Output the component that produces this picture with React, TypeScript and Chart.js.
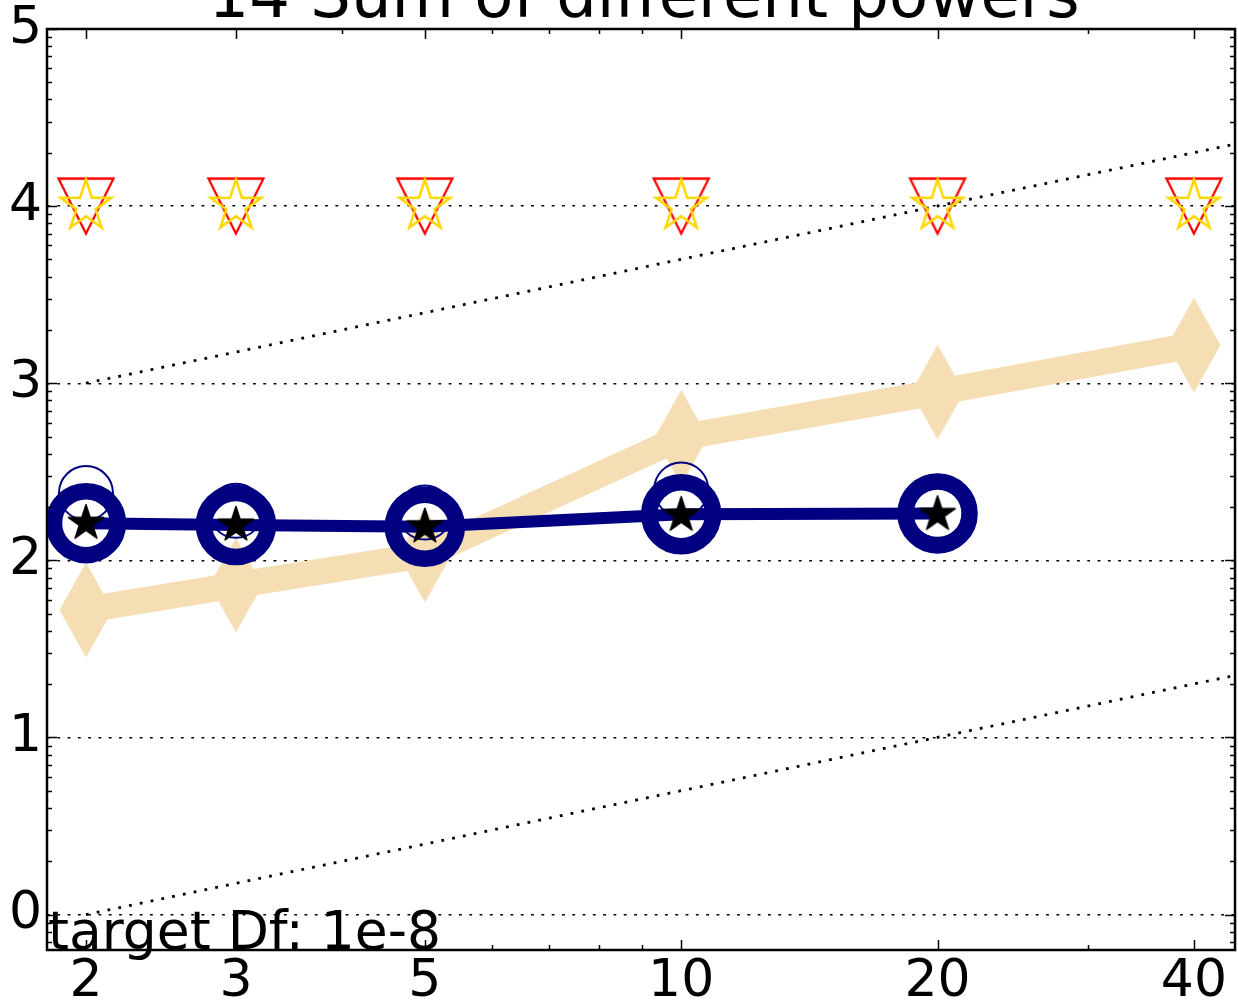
import React, { useEffect, useRef } from "react";
import { Chart, registerables } from "chart.js";

Chart.register(...registerables);

// ---------- data ----------
const dims = [2, 3, 5, 10, 20, 40];
const dimsNavy = [2, 3, 5, 10, 20];
const wheatValues = [1.72, 1.86, 2.03, 2.695, 2.95, 3.215];
const navyValues = [2.21, 2.2, 2.19, 2.26, 2.265];
const navyThinValues = [2.38, 2.28, 2.27, 2.4, 2.28];
const blackStarValues = [2.21, 2.2, 2.19, 2.255, 2.26];
const triangleValues = [4, 4, 4, 4, 4, 4];
const goldStarValues = [4, 4, 4, 4, 4, 4];
const refX = [2, 45];
const refUpper = [3.0, 4.353];
const refLower = [0.0, 1.353];

// ---------- ticks / labels ----------
const xMajorTicks = [2, 3, 5, 10, 20, 40];
const xMinorTicks = [4, 6, 7, 8, 9, 30];
const yMajorTicks = [0, 1, 2, 3, 4, 5];
const yMinorFactors = [2, 3, 4, 5, 6, 7, 8, 9];
const titleText = "14 Sum of different powers";
const targetText = "target Df: 1e-8";

const NAVY = "#000080";
const WHEAT = "#F5DEB3";
const GOLD = "#FFD700";
const RED = "#FF0000";
const FONT = '"DejaVu Sans"';

function makeCanvas(w: number, h: number, draw: (ctx: CanvasRenderingContext2D, cx: number, cy: number) => void) {
  const c = document.createElement("canvas");
  c.width = w;
  c.height = h;
  const ctx = c.getContext("2d")!;
  draw(ctx, w / 2, h / 2);
  return c;
}

function starPath(ctx: CanvasRenderingContext2D, cx: number, cy: number, R: number) {
  const r = R * 0.381966;
  ctx.beginPath();
  for (let i = 0; i < 10; i++) {
    const ang = -Math.PI / 2 + (i * Math.PI) / 5;
    const rr = i % 2 === 0 ? R : r;
    const px = cx + rr * Math.cos(ang);
    const py = cy + rr * Math.sin(ang);
    if (i === 0) ctx.moveTo(px, py);
    else ctx.lineTo(px, py);
  }
  ctx.closePath();
}

const decorPlugin = {
  id: "decor",
  afterDraw(chart: any) {
    const { ctx, chartArea: a, scales } = chart;
    const x = scales.x;
    const y = scales.y;
    ctx.save();
    ctx.strokeStyle = "#000";
    ctx.lineWidth = 1.5;
    ctx.setLineDash([]);
    ctx.beginPath();
    const xt = [...xMajorTicks.map((v) => [v, 10]), ...xMinorTicks.map((v) => [v, 5])];
    for (const [v, len] of xt) {
      const px = Math.round(x.getPixelForValue(v)) + 0.5;
      ctx.moveTo(px, a.bottom);
      ctx.lineTo(px, a.bottom - len);
      ctx.moveTo(px, a.top);
      ctx.lineTo(px, a.top + len);
    }
    const yt: number[][] = yMajorTicks.map((v) => [v, 10]);
    for (let n = -1; n <= 4; n++) {
      for (const k of yMinorFactors) {
        const v = n + Math.log10(k);
        if (v > y.min && v < y.max) yt.push([v, 5]);
      }
    }
    for (const [v, len] of yt) {
      const py = Math.round(y.getPixelForValue(v)) + 0.5;
      ctx.moveTo(a.left, py);
      ctx.lineTo(a.left + len, py);
      ctx.moveTo(a.right, py);
      ctx.lineTo(a.right - len, py);
    }
    ctx.stroke();

    ctx.lineWidth = 2.5;
    ctx.strokeRect(a.left, a.top, a.right - a.left, a.bottom - a.top);

    ctx.fillStyle = "#000";
    ctx.font = `64px ${FONT}`;
    ctx.textAlign = "center";
    ctx.textBaseline = "alphabetic";
    ctx.fillText(titleText, (a.left + a.right) / 2 + 3, a.top - 12);

    ctx.font = `53.5px ${FONT}`;
    ctx.textAlign = "left";
    ctx.fillText(targetText, a.left + 1, a.bottom - 1);
    ctx.restore();
  },
};

export default function App() {
  const ref = useRef<HTMLCanvasElement>(null);

  useEffect(() => {
    const canvas = ref.current!;
    const triangleDown = makeCanvas(64, 64, (ctx, cx, cy) => {
      ctx.beginPath();
      ctx.moveTo(cx, cy + 27.5);
      ctx.lineTo(cx - 27.5, cy - 27.5);
      ctx.lineTo(cx + 27.5, cy - 27.5);
      ctx.closePath();
      ctx.lineWidth = 2.3;
      ctx.lineJoin = "miter";
      ctx.strokeStyle = RED;
      ctx.stroke();
    });
    const goldStar = makeCanvas(62, 62, (ctx, cx, cy) => {
      starPath(ctx, cx, cy, 26.5);
      ctx.lineWidth = 2.6;
      ctx.lineJoin = "miter";
      ctx.strokeStyle = GOLD;
      ctx.stroke();
    });
    const blackStar = makeCanvas(46, 46, (ctx, cx, cy) => {
      starPath(ctx, cx, cy, 18.5);
      ctx.fillStyle = "#000";
      ctx.fill();
      ctx.lineWidth = 1.5;
      ctx.lineJoin = "round";
      ctx.strokeStyle = "#000";
      ctx.stroke();
    });
    const thinDiamond = makeCanvas(58, 100, (ctx, cx, cy) => {
      ctx.beginPath();
      ctx.moveTo(cx, cy - 47.5);
      ctx.lineTo(cx + 26.5, cy);
      ctx.lineTo(cx, cy + 47.5);
      ctx.lineTo(cx - 26.5, cy);
      ctx.closePath();
      ctx.fillStyle = WHEAT;
      ctx.fill();
    });

    const pts = (xs: number[], ys: number[]) => xs.map((v, i) => ({ x: v, y: ys[i] }));

    const chart = new Chart(canvas, {
      type: "line",
      data: {
        datasets: [
          {
            label: "upper ref",
            data: pts(refX, refUpper),
            borderColor: "#000",
            borderWidth: 2.8,
            borderDash: [2.8, 8.2],
            pointRadius: 0,
            clip: 0,
            order: 10,
          },
          {
            label: "lower ref",
            data: pts(refX, refLower),
            borderColor: "#000",
            borderWidth: 2.8,
            borderDash: [2.8, 8.2],
            pointRadius: 0,
            clip: 0,
            order: 10,
          },
          {
            label: "wheat",
            data: pts(dims, wheatValues),
            borderColor: WHEAT,
            borderWidth: 26,
            borderJoinStyle: "round",
            pointStyle: thinDiamond,
            pointRadius: 20,
            order: 9,
          },
          {
            label: "navy",
            data: pts(dimsNavy, navyValues),
            borderColor: NAVY,
            borderWidth: 12,
            borderJoinStyle: "round",
            pointStyle: "circle",
            pointRadius: 32,
            pointBorderWidth: 16.5,
            pointBorderColor: NAVY,
            pointBackgroundColor: "rgba(0,0,0,0)",
            order: 8,
          },
          {
            label: "navy thin",
            data: pts(dimsNavy, navyThinValues),
            showLine: false,
            pointStyle: "circle",
            pointRadius: 27,
            pointBorderWidth: 2,
            pointBorderColor: NAVY,
            pointBackgroundColor: "rgba(0,0,0,0)",
            order: 7,
          },
          {
            label: "black star",
            data: pts(dimsNavy, blackStarValues),
            showLine: false,
            pointStyle: blackStar,
            pointRadius: 18,
            order: 6,
          },
          {
            label: "triangles",
            data: pts(dims, triangleValues),
            showLine: false,
            pointStyle: triangleDown,
            pointRadius: 28,
            order: 5,
          },
          {
            label: "gold stars",
            data: pts(dims, goldStarValues),
            showLine: false,
            pointStyle: goldStar,
            pointRadius: 27,
            order: 4,
          },
        ] as any,
      },
      options: {
        responsive: false,
        animation: false,
        devicePixelRatio: 1,
        events: [],
        layout: { autoPadding: false, padding: { top: 29, right: 3, left: 0, bottom: 0 } },
        plugins: {
          legend: { display: false },
          tooltip: { enabled: false },
          title: { display: false },
        },
        scales: {
          x: {
            type: "logarithmic",
            min: 1.8,
            max: 44.7,
            grid: { display: false, drawTicks: false },
            border: { display: false },
            afterBuildTicks: (s: any) => {
              s.ticks = [...xMajorTicks, ...xMinorTicks]
                .sort((p, q) => p - q)
                .map((v) => ({ value: v }));
            },
            afterFit: (s: any) => {
              s.height = 58;
              s.paddingLeft = 0;
              s.paddingRight = 0;
            },
            ticks: {
              autoSkip: false,
              maxRotation: 0,
              minRotation: 0,
              padding: 1,
              color: "#000",
              font: { family: FONT, size: 52 },
              callback: (v: any) => (xMajorTicks.includes(Number(v)) ? String(v) : ""),
            },
          },
          y: {
            type: "linear",
            min: -0.2,
            max: 5,
            grid: {
              drawTicks: false,
              lineWidth: 1.4,
              color: (c: any) =>
                c.tick && Number.isInteger(c.tick.value) && c.tick.value < 5 ? "#000" : "rgba(0,0,0,0)",
            },
            border: { display: false, dash: [2.8, 7.5] },
            afterBuildTicks: (s: any) => {
              const t: number[] = [...yMajorTicks];
              for (let n = -1; n <= 4; n++) {
                for (const k of yMinorFactors) {
                  const v = n + Math.log10(k);
                  if (v > -0.2 && v < 5) t.push(v);
                }
              }
              s.ticks = t.sort((p, q) => p - q).map((v) => ({ value: v }));
            },
            afterFit: (s: any) => {
              s.width = 47;
              s.paddingTop = 0;
              s.paddingBottom = 0;
            },
            ticks: {
              autoSkip: false,
              padding: 5,
              color: "#000",
              font: { family: FONT, size: 52 },
              callback: (v: any) => (yMajorTicks.includes(Number(v)) ? String(v) : ""),
            },
          },
        },
      } as any,
      plugins: [decorPlugin],
    });
    return () => chart.destroy();
  }, []);

  return (
    <div style={{ position: "absolute", left: 0, top: 0, width: 1238, height: 1008, background: "#fff" }}>
      <canvas ref={ref} width={1238} height={1008} style={{ display: "block", width: 1238, height: 1008 }} />
    </div>
  );
}
